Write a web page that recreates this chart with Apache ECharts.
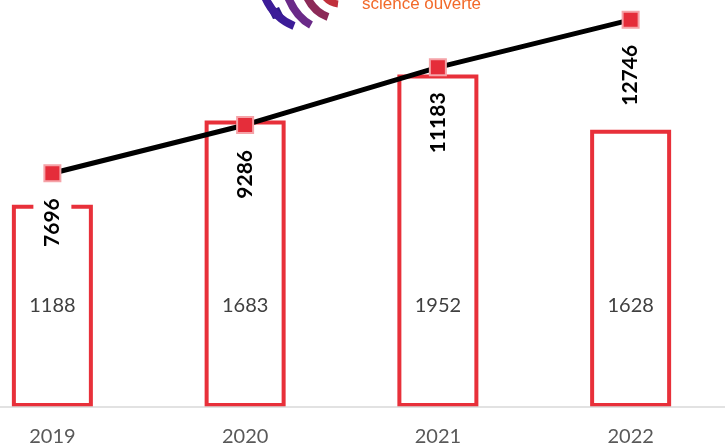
<!DOCTYPE html>
<html>
<head>
<meta charset="utf-8">
<script src="https://cdn.jsdelivr.net/npm/echarts@6/dist/echarts.min.js"></script>
<style>
html,body{margin:0;padding:0;background:#fff;}
#chart{width:725px;height:447px;}
</style>
</head>
<body>
<div id="chart"></div>
<script>
const years = ['2019', '2020', '2021', '2022'];
const barValues = [1188, 1683, 1952, 1628];
const lineValues = [7696, 9286, 11183, 12746];

const chart = echarts.init(document.getElementById('chart'));
const option = {
  animation: false,
  backgroundColor: '#ffffff',
  grid: { left: -44, right: -2, top: 0, bottom: 40, containLabel: false, outerBoundsMode: 'none' },
  xAxis: {
    type: 'category',
    data: years,
    boundaryGap: true,
    z: 5,
    axisLine: { show: true, lineStyle: { color: '#d9d9d9', width: 1.5 } },
    axisTick: { show: false },
    axisLabel: { color: '#595959', fontSize: 20, fontFamily: 'Lato', margin: 20 }
  },
  yAxis: [
    { type: 'value', min: 0, max: 2390, show: false, splitLine: { show: false } },
    { type: 'value', min: 0, max: 13400, show: false, splitLine: { show: false } }
  ],
  series: [
    {
      type: 'bar',
      yAxisIndex: 0,
      data: barValues,
      barWidth: 81,
      itemStyle: { color: '#ffffff', borderColor: '#e8303a', borderWidth: 4 },
      label: {
        show: true,
        position: 'insideBottom',
        distance: 91,
        color: '#404040',
        fontSize: 20,
        fontFamily: 'Lato'
      }
    },
    {
      type: 'line',
      yAxisIndex: 1,
      data: lineValues,
      symbol: 'rect',
      symbolSize: 16,
      lineStyle: { color: '#000000', width: 5 },
      itemStyle: { color: '#e52d3a', borderColor: '#f5a3a8', borderWidth: 2 },
      z: 3,
      label: {
        show: true,
        position: 'bottom',
        distance: 14,
        rotate: 90,
        align: 'right',
        verticalAlign: 'middle',
        color: '#000000',
        fontWeight: 'bold',
        fontSize: 21,
        fontFamily: 'Lato',
        lineHeight: 22,
        backgroundColor: '#ffffff',
        padding: [8, 2, 8, 2]
      }
    }
  ],
  graphic: [
    { type: 'polygon', shape: { points: [[269, 11], [279, 7], [284, 17], [273, 19]] }, style: { fill: '#2a1a86' } },
    { type: 'bezierCurve', shape: { x1: 265, y1: -3, x2: 294, y2: 26, cpx1: 274, cpy1: 18 }, style: { stroke: '#3c1c98', lineWidth: 8, fill: null } },
    { type: 'bezierCurve', shape: { x1: 288, y1: -3, x2: 311, y2: 25, cpx1: 296, cpy1: 17 }, style: { stroke: '#6a2a88', lineWidth: 8, fill: null } },
    { type: 'bezierCurve', shape: { x1: 307, y1: -3, x2: 328, y2: 17, cpx1: 314, cpy1: 12 }, style: { stroke: '#8c2a58', lineWidth: 8, fill: null } },
    { type: 'bezierCurve', shape: { x1: 325, y1: -3, x2: 338, y2: 4, cpx1: 330, cpy1: 3 }, style: { stroke: '#c0303c', lineWidth: 7, fill: null } },
    { type: 'text', x: 362, y: 13, style: { text: 'science ouverte', fill: '#f26a2a', fontSize: 17, fontFamily: 'Liberation Sans', verticalAlign: 'bottom' } }
  ]
};
chart.setOption(option);
</script>
</body>
</html>
